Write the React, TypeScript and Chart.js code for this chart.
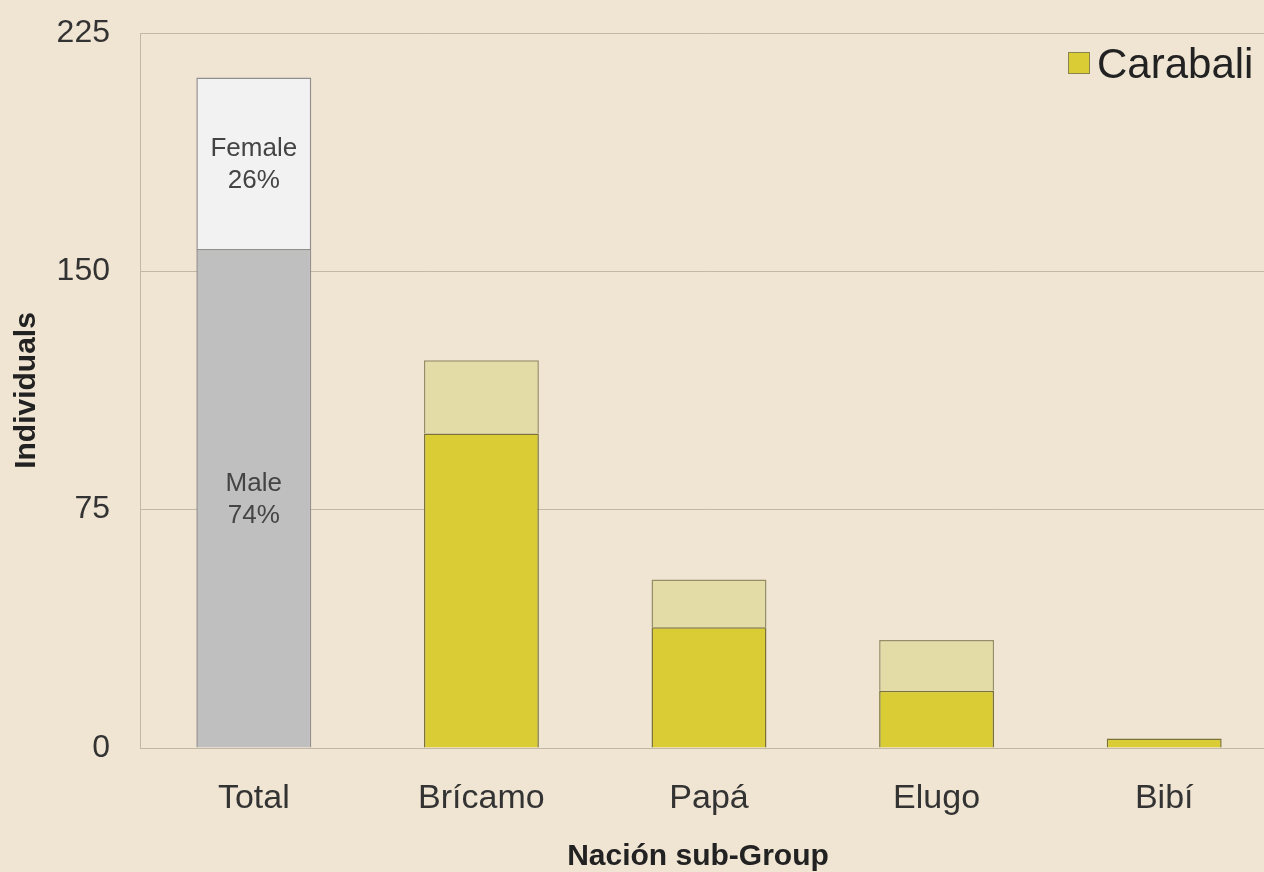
import { useEffect, useRef } from "react";
import { Chart, registerables } from "chart.js";

Chart.register(...registerables);

const categories = ["Total", "Brícamo", "Papá", "Elugo", "Bibí"];
const maleValues = [157, 99, 38, 18, 3];
const femaleValues = [54, 23, 15, 16, 0];
const yTickValues = [0, 75, 150, 225];
const legendLabel = "Carabali";
const totalSegmentNames = ["Male", "Female"];
const xTitle = "Nación sub-Group";
const yTitle = "Individuals";

const BG = "#f0e5d3";
const GRID = "#c2b8a6";
const FONT = "'Liberation Sans', Arial, Helvetica, sans-serif";

const maleColors = categories.map((_, i) => (i === 0 ? "#bfbfbf" : "#dacc35"));
const femaleColors = categories.map((_, i) => (i === 0 ? "#f2f2f2" : "#e4dca7"));
const maleBorders = categories.map((_, i) => (i === 0 ? "#8f8f8f" : "#7a7236"));
const femaleBorders = categories.map((_, i) => (i === 0 ? "#8f8f8f" : "#948d66"));

const bgPlugin = {
  id: "bgPlugin",
  beforeDraw(chart: any) {
    const { ctx, width, height } = chart;
    ctx.save();
    ctx.fillStyle = BG;
    ctx.fillRect(0, 0, width, height);
    ctx.restore();
  },
};

const totalLabelPlugin = {
  id: "totalLabelPlugin",
  afterDatasetsDraw(chart: any) {
    const { ctx } = chart;
    const total = maleValues[0] + femaleValues[0];
    const segs = [
      { ds: 0, name: totalSegmentNames[0], val: maleValues[0] },
      { ds: 1, name: totalSegmentNames[1], val: femaleValues[0] },
    ];
    ctx.save();
    ctx.fillStyle = "#444";
    ctx.font = `26px ${FONT}`;
    ctx.textAlign = "center";
    ctx.textBaseline = "middle";
    segs.forEach((s) => {
      const el = chart.getDatasetMeta(s.ds).data[0];
      if (!el) return;
      const cy = (el.y + el.base) / 2 + 2;
      const pct = Math.round((s.val / total) * 100) + "%";
      ctx.fillText(s.name, el.x, cy - 16);
      ctx.fillText(pct, el.x, cy + 16);
    });
    ctx.restore();
  },
};

const xTitlePlugin = {
  id: "xTitlePlugin",
  afterDraw(chart: any) {
    const { ctx } = chart;
    const area = chart.chartArea;
    ctx.save();
    ctx.fillStyle = "#222";
    ctx.font = `bold 30px ${FONT}`;
    ctx.textAlign = "center";
    ctx.textBaseline = "middle";
    ctx.fillText(xTitle, (area.left + area.right) / 2 - 11, 857);
    ctx.restore();
  },
};

const legendPlugin = {
  id: "legendPlugin",
  afterDraw(chart: any) {
    const { ctx } = chart;
    ctx.save();
    ctx.fillStyle = maleColors[1];
    ctx.strokeStyle = "#8a8450";
    ctx.lineWidth = 1;
    ctx.fillRect(1068, 52, 21, 21);
    ctx.strokeRect(1068.5, 52.5, 21, 21);
    ctx.fillStyle = "#222";
    ctx.font = `42px ${FONT}`;
    ctx.textAlign = "left";
    ctx.textBaseline = "middle";
    ctx.fillText(legendLabel, 1097, 66);
    ctx.restore();
  },
};

export default function App() {
  const ref = useRef<HTMLCanvasElement | null>(null);

  useEffect(() => {
    if (!ref.current) return;
    const chart = new Chart(ref.current, {
      type: "bar",
      data: {
        labels: categories,
        datasets: [
          {
            label: "Male",
            data: maleValues,
            backgroundColor: maleColors,
            borderColor: maleBorders,
            borderWidth: 1.5,
            categoryPercentage: 1,
            barPercentage: 0.505,
          },
          {
            label: "Female",
            data: femaleValues,
            backgroundColor: femaleColors,
            borderColor: femaleBorders,
            borderWidth: 1.5,
            categoryPercentage: 1,
            barPercentage: 0.505,
          },
        ],
      },
      plugins: [bgPlugin, totalLabelPlugin, legendPlugin, xTitlePlugin],
      options: {
        responsive: false,
        animation: false,
        layout: { padding: { top: 33, left: 0, right: 0, bottom: 0 } },
        plugins: {
          legend: { display: false },
          tooltip: { enabled: false },
        },
        scales: {
          x: {
            stacked: true,
            grid: { display: false, drawTicks: false },
            border: { display: true, color: GRID, width: 1 },
            ticks: {
              padding: 30,
              color: "#333",
              font: { family: FONT, size: 34 },
            },
            afterFit(scale: any) {
              scale.height = 124;
              scale.paddingLeft = 0;
              scale.paddingRight = 0;
            },
          },
          y: {
            stacked: true,
            min: 0,
            max: 225,
            afterBuildTicks(scale: any) {
              scale.ticks = yTickValues.map((v) => ({ value: v }));
            },
            grid: { color: GRID, lineWidth: 1, drawTicks: false },
            border: { display: true, color: GRID, width: 1 },
            ticks: {
              padding: 30,
              color: "#333",
              font: { family: FONT, size: 32 },
            },
            title: {
              display: true,
              text: yTitle,
              color: "#222",
              font: { family: FONT, size: 30, weight: "bold", lineHeight: 1 },
              padding: { top: 12, bottom: 0 },
            },
            afterFit(scale: any) {
              scale.width = 140;
              scale.paddingTop = 0;
              scale.paddingBottom = 0;
            },
          },
        },
      },
    });
    return () => chart.destroy();
  }, []);

  return (
    <div
      style={{
        position: "fixed",
        left: 0,
        top: 0,
        width: 1264,
        height: 872,
        overflow: "hidden",
        background: BG,
      }}
    >
      <canvas ref={ref} width={1278} height={872} style={{ display: "block" }} />
    </div>
  );
}
